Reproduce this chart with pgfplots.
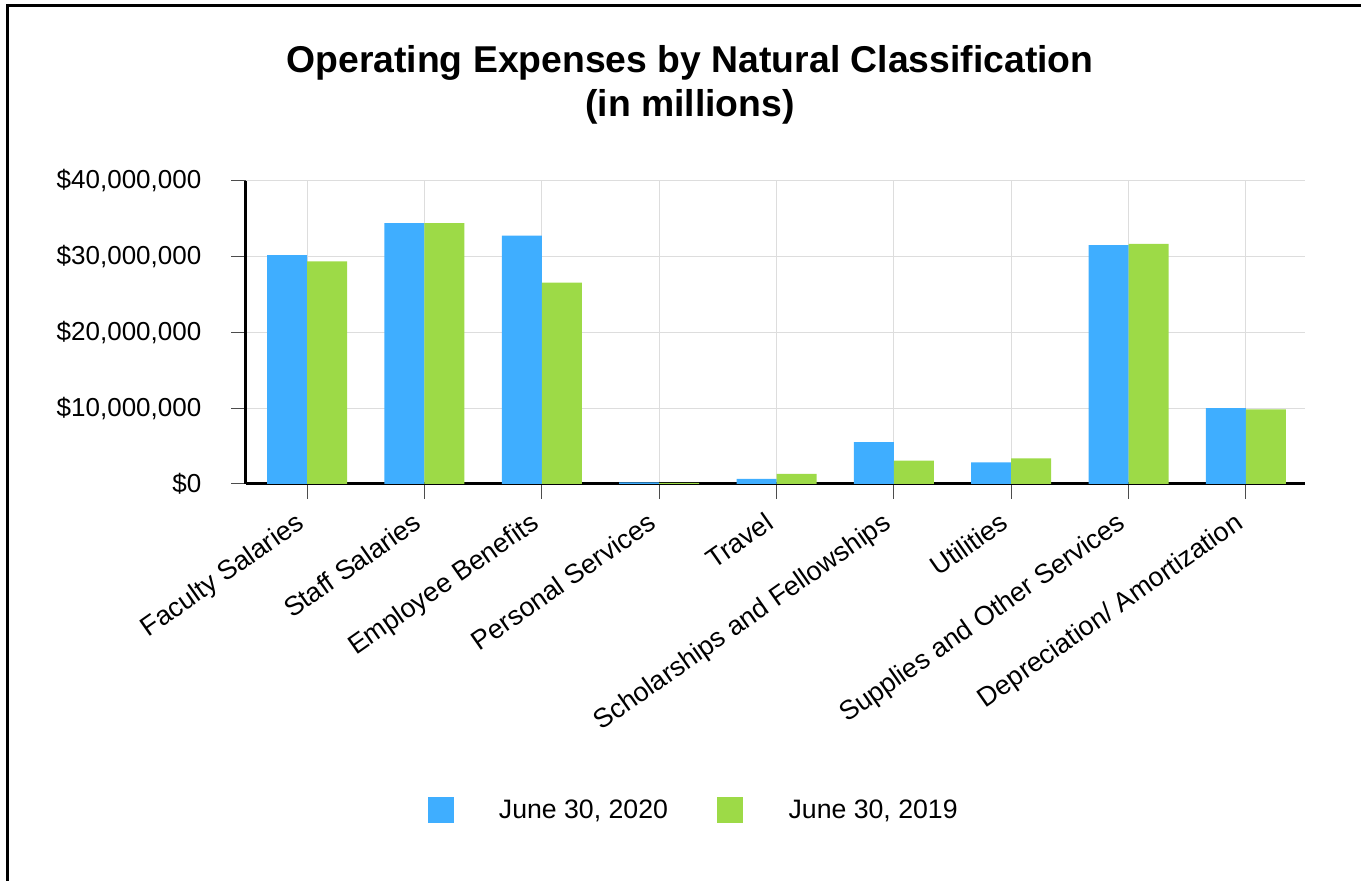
\documentclass[border=0pt]{standalone}
\usepackage{fontspec}
\setmainfont{Liberation Sans}
\usepackage{pgfplots}
\pgfplotsset{compat=1.18}
\definecolor{cblue}{RGB}{63,174,255}
\definecolor{cgreen}{RGB}{157,218,71}
\definecolor{gridgray}{RGB}{221,221,221}
\pgfplotsset{sqlegend/.style={legend image code/.code={\fill[##1] (0pt,-9.75pt) rectangle (19.5pt,9.75pt);}}}
\begin{document}
\begin{tikzpicture}[x=1pt,y=1pt]
\useasboundingbox (0,0) rectangle (1020.75,660.75);
\draw[line width=2.25pt] (5.25,0) -- (5.25,656.25) -- (1020.75,656.25);
\node[font=\bfseries\fontsize{28}{33}\selectfont, anchor=base] at (517.5,606.2) {Operating Expenses by Natural Classification};
\node[font=\bfseries\fontsize{28}{33}\selectfont, anchor=base] at (517.5,573) {(in millions)};
\begin{axis}[
  at={(184.5pt,297.75pt)}, anchor=south west,
  scale only axis, width=794.25pt, height=227.25pt,
  ybar=0pt, bar width=30pt,
  xmin=-0.52, xmax=8.503, ymin=0, ymax=40000000,
  xtick={0,1,2,3,4,5,6,7,8},
  xticklabels={Faculty Salaries, Staff Salaries, Employee Benefits, Personal Services, Travel, Scholarships and Fellowships, Utilities, Supplies and Other Services, Depreciation/ Amortization},
  ytick={0,10000000,20000000,30000000,40000000},
  yticklabels={\$0,{\$10,000,000},{\$20,000,000},{\$30,000,000},{\$40,000,000}},
  scaled y ticks=false,
  axis x line*=bottom, axis y line*=left,
  axis line style={line width=2.25pt, -},
  tick align=outside, major tick length=11pt,
  tick style={black!70, line width=0.75pt},
  grid=major, major grid style={gridgray, line width=0.75pt},
  yticklabel style={font=\fontsize{19.5}{23}\selectfont, anchor=east, xshift=-19pt},
  xticklabel style={font=\fontsize{20.2}{24}\selectfont, rotate=35, anchor=north east, inner sep=2pt, xshift=-11pt},
  legend style={at={(0.423,-1.076)}, anchor=center, draw=none, fill=none,
    legend columns=2, font=\fontsize{20}{24}\selectfont,
    /tikz/every odd column/.append style={column sep=32pt},
    /tikz/every even column/.append style={column sep=35pt}},
]
\addplot[fill=cblue, draw=none, sqlegend] coordinates {
 (0,30200000) (1,34450000) (2,32800000) (3,200000) (4,660000) (5,5540000) (6,2860000) (7,31550000) (8,10030000)};
\addplot[fill=cgreen, draw=none, sqlegend] coordinates {
 (0,29400000) (1,34450000) (2,26600000) (3,150000) (4,1320000) (5,3080000) (6,3390000) (7,31700000) (8,9860000)};
\legend{{June 30, 2020}, {June 30, 2019}}
\end{axis}
\end{tikzpicture}
\end{document}
